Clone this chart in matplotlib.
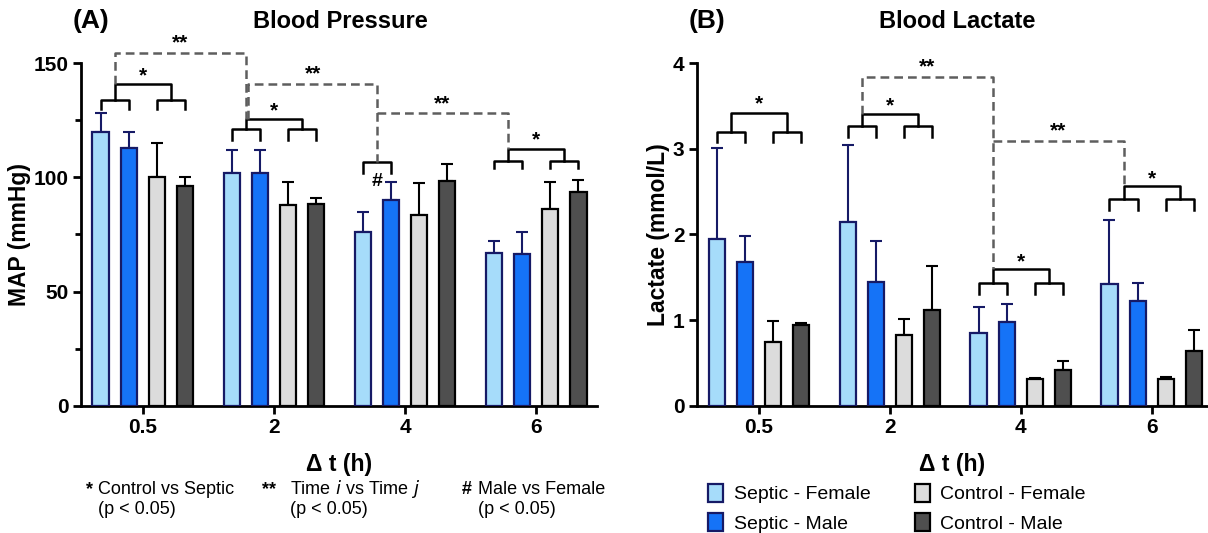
import numpy as np
import matplotlib.pyplot as plt

plt.rcParams['font.family'] = ['Liberation Sans', 'DejaVu Sans']

# =========================
# Dados
# =========================
tempos = ['0.5', '2', '4', '6']
grupos = ['Septic - Female', 'Septic - Male', 'Control - Female', 'Control - Male']

map_media = [
    [120, 102, 76, 67],      # Septic - Female
    [113, 102, 90, 66.5],    # Septic - Male
    [100, 88, 83.5, 86],     # Control - Female
    [96, 88.5, 98.5, 93.5],  # Control - Male
]
map_topo = [
    [128, 112, 85, 72],
    [120, 112, 98, 76],
    [115, 98, 97.5, 98],
    [100, 91, 106, 99],
]

lac_media = [
    [1.95, 2.14, 0.85, 1.42],
    [1.68, 1.45, 0.98, 1.23],
    [0.75, 0.83, 0.31, 0.32],
    [0.95, 1.12, 0.42, 0.64],
]
lac_topo = [
    [3.01, 3.04, 1.16, 2.17],
    [1.98, 1.92, 1.19, 1.43],
    [0.99, 1.01, 0.33, 0.34],
    [0.97, 1.63, 0.53, 0.89],
]

cores = ['#A6DCFA', '#1573F7', '#DCDCDC', '#4F4F4F']
bordas = ['#161A66', '#161A66', '#000000', '#000000']

# =========================
# Layout
# =========================
fig = plt.figure(figsize=(12.08, 5.33), dpi=100)
ax1 = fig.add_axes([0.0671, 0.2383, 0.4272, 0.6435])
ax2 = fig.add_axes([0.5770, 0.2383, 0.4230, 0.6435])

passo = 0.215
largura = 0.124


def pos(i, j):
    return i + (j - 1.5) * passo


def barras(ax, medias, topos):
    x = np.arange(len(tempos))
    for j in range(4):
        xs = x + (j - 1.5) * passo
        m = np.array(medias[j])
        e = np.array(topos[j]) - m
        ax.bar(xs, m, largura, color=cores[j], edgecolor=bordas[j],
               linewidth=1.6, label=grupos[j], zorder=3)
        ax.errorbar(xs, m, yerr=[np.zeros_like(e), e], fmt='none',
                    ecolor=bordas[j], elinewidth=1.5, capsize=4.5,
                    capthick=1.5, zorder=2)


def rotulo(ax, x, y, txt, tam=15):
    ax.annotate(txt, (x, y), xytext=(0, -3), textcoords='offset points',
                ha='center', va='center', fontsize=tam, fontweight='bold',
                annotation_clip=False)


def colchete(ax, x1, x2, y, y_baixo, cor='black', ls='-'):
    ax.plot([x1, x1, x2, x2], [y_baixo, y, y, y_baixo], color=cor, ls=ls,
            lw=1.8, clip_on=False, zorder=4)


def duplo(ax, i, y_peq, perna, y_grande, y_estrela):
    colchete(ax, pos(i, 0), pos(i, 1), y_peq, perna)
    colchete(ax, pos(i, 2), pos(i, 3), y_peq, perna)
    m1 = (pos(i, 0) + pos(i, 1)) / 2
    m2 = (pos(i, 2) + pos(i, 3)) / 2
    colchete(ax, m1, m2, y_grande, y_peq)
    rotulo(ax, (m1 + m2) / 2, y_estrela, '*')


def tracejado(ax, xa, ya, ytopo, xb, yb, y_txt):
    ax.plot([xa, xa, xb, xb], [ya, ytopo, ytopo, yb], color='#5E5E5E',
            ls=(0, (3.5, 2)), lw=1.8, clip_on=False, zorder=4)
    rotulo(ax, (xa + xb) / 2, y_txt, '**')


def meio_esq(i):
    return (pos(i, 0) + pos(i, 1)) / 2


def estilo(ax, ymax, ticks, ylabel, xlim):
    for s in ['top', 'right']:
        ax.spines[s].set_visible(False)
    for s in ['left', 'bottom']:
        ax.spines[s].set_linewidth(2)
    ax.set_ylim(0, ymax)
    ax.set_xlim(*xlim)
    ax.set_yticks(ticks)
    ax.set_xticks(range(len(tempos)))
    ax.set_xticklabels(tempos)
    ax.tick_params(width=2, length=6, labelsize=15, pad=3)
    ax.tick_params(which='minor', width=2, length=4)
    for lbl in ax.get_xticklabels() + ax.get_yticklabels():
        lbl.set_fontweight('bold')
    ax.set_ylabel(ylabel, fontsize=16.5, fontweight='bold', labelpad=2)
    ax.set_xlabel('Δ t (h)', fontsize=16.5, fontweight='bold', labelpad=11)


# =========================
# (A) Blood Pressure
# =========================
barras(ax1, map_media, map_topo)
estilo(ax1, 150, [0, 50, 100, 150], 'MAP (mmHg)', (-0.471, 3.465))
ax1.set_yticks([25, 75, 125], minor=True)

duplo(ax1, 0, 134, 130, 141, 146)
duplo(ax1, 1, 121, 116.5, 125.5, 131)
duplo(ax1, 3, 107, 104, 112.5, 118)
colchete(ax1, pos(2, 0), pos(2, 1), 106.5, 102)
rotulo(ax1, meio_esq(2), 100, '#', tam=14)

tracejado(ax1, meio_esq(0), 141, 154.5, meio_esq(1), 125.5, 160.5)
tracejado(ax1, meio_esq(1) + 0.02, 125.5, 141, meio_esq(2), 106.5, 147)
tracejado(ax1, meio_esq(2), 128, 128, meio_esq(3), 112.5, 134)

fig.text(0.0604, 0.960, '(A)', fontsize=19, fontweight='bold', va='center')
fig.text(0.2815, 0.960, 'Blood Pressure', fontsize=17, fontweight='bold',
         ha='center', va='center')

# =========================
# (B) Blood Lactate
# =========================
barras(ax2, lac_media, lac_topo)
estilo(ax2, 4, [0, 1, 2, 3, 4], 'Lactate (mmol/L)', (-0.473, 3.43))

duplo(ax2, 0, 3.19, 3.08, 3.42, 3.57)
duplo(ax2, 1, 3.26, 3.14, 3.41, 3.55)
duplo(ax2, 2, 1.44, 1.31, 1.60, 1.73)
duplo(ax2, 3, 2.41, 2.28, 2.57, 2.70)

tracejado(ax2, meio_esq(1), 3.41, 3.84, meio_esq(2), 1.60, 4.0)
tracejado(ax2, meio_esq(2), 3.09, 3.09, meio_esq(3), 2.57, 3.26)

fig.text(0.570, 0.960, '(B)', fontsize=19, fontweight='bold', va='center')
fig.text(0.792, 0.960, 'Blood Lactate', fontsize=17, fontweight='bold',
         ha='center', va='center')

# =========================
# Notas e legenda
# =========================
notas = [
    (0.071, '*', 0.081, 'Control vs Septic'),
    (0.217, '**', 0.240, 'Time $\\it{i}$ vs Time $\\it{j}$'),
    (0.382, '#', 0.396, 'Male vs Female'),
]
for xs, simb, xt, txt in notas:
    fig.text(xs, 0.082, simb, fontsize=13, fontweight='bold', va='center')
    fig.text(xt, 0.082, txt, fontsize=13, va='center')
    fig.text(xt, 0.044, '(p < 0.05)', fontsize=13, va='center')

ax2.legend(loc='upper left', bbox_to_anchor=(0.580, 0.107), bbox_transform=fig.transFigure,
           ncol=2, frameon=False, fontsize=14, handlelength=0.75,
           handleheight=1.05, handletextpad=0.55, columnspacing=2.3,
           labelspacing=0.5, borderaxespad=0)

fig.savefig('out.png', dpi=100)
